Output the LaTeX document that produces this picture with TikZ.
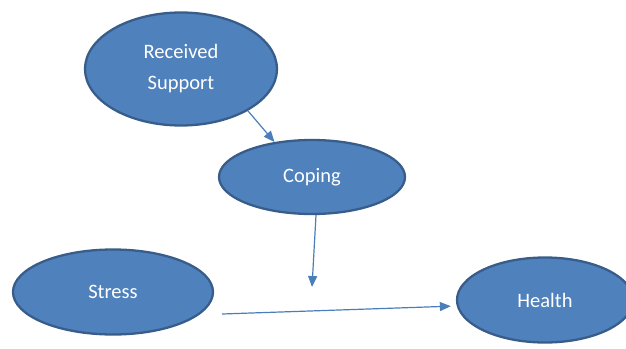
\documentclass[tikz,border=0pt]{standalone}
\usepackage{fontspec}
\setmainfont{Carlito}
\usetikzlibrary{shapes.geometric,arrows.meta}
\definecolor{nodefill}{HTML}{4F81BD}
\definecolor{nodeline}{HTML}{385D8A}
\definecolor{arrowblue}{HTML}{4A7EBB}
\begin{document}
\begin{tikzpicture}[x=1pt,y=-1pt,
  var/.style={ellipse, fill=nodefill, draw=nodeline, line width=2.3pt,
    inner sep=0pt, text=white, font=\fontsize{20.5}{31}\selectfont, align=center},
  link/.style={draw=arrowblue, line width=1.2pt,
    -{Triangle[length=11pt,width=9pt]}}]
\useasboundingbox (0,0) rectangle (626,348);

% variables
\node[var, minimum width=192, minimum height=113] (rs) at (181,69) {Received\\Support};
\node[var, minimum width=186, minimum height=74] (cop) at (312,177) {Coping};
\node[var, minimum width=200, minimum height=85] (st) at (113,292) {Stress};
\node[var, minimum width=176, minimum height=85] (hl) at (545,300) {Health};

% free ends of the moderation paths
\coordinate (mod) at (312,287);
\coordinate (s0) at (222,314);

% paths
\draw[link] (rs.-32) -- (cop.137);
\draw[link] (cop.-84) -- (mod);
\draw[link, shorten >=5pt] (s0) -- ([yshift=-6pt]hl.west);
\end{tikzpicture}
\end{document}
